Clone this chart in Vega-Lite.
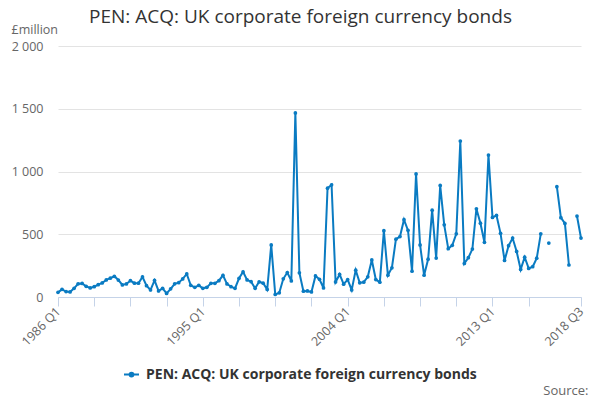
{
  "$schema": "https://vega.github.io/schema/vega-lite/v6.json",
  "width": 523,
  "height": 251,
  "autosize": "none",
  "padding": {"left": 58, "top": 46, "right": 19, "bottom": 103},
  "title": {
    "text": "PEN: ACQ: UK corporate foreign currency bonds",
    "font": "Open Sans",
    "fontSize": 19,
    "fontWeight": "normal",
    "color": "#333333",
    "anchor": "middle",
    "frame": "group",
    "dx": -19,
    "offset": -4
  },
  "data": {
    "values": [
      {"q": "1986 Q1", "v": 37}, {"q": "1986 Q2", "v": 61}, {"q": "1986 Q3", "v": 43}, {"q": "1986 Q4", "v": 40},
      {"q": "1987 Q1", "v": 69}, {"q": "1987 Q2", "v": 105}, {"q": "1987 Q3", "v": 108}, {"q": "1987 Q4", "v": 85},
      {"q": "1988 Q1", "v": 72}, {"q": "1988 Q2", "v": 82}, {"q": "1988 Q3", "v": 98}, {"q": "1988 Q4", "v": 112},
      {"q": "1989 Q1", "v": 136}, {"q": "1989 Q2", "v": 150}, {"q": "1989 Q3", "v": 165}, {"q": "1989 Q4", "v": 135},
      {"q": "1990 Q1", "v": 96}, {"q": "1990 Q2", "v": 104}, {"q": "1990 Q3", "v": 130}, {"q": "1990 Q4", "v": 110},
      {"q": "1991 Q1", "v": 110}, {"q": "1991 Q2", "v": 160}, {"q": "1991 Q3", "v": 90}, {"q": "1991 Q4", "v": 56},
      {"q": "1992 Q1", "v": 132}, {"q": "1992 Q2", "v": 48}, {"q": "1992 Q3", "v": 69}, {"q": "1992 Q4", "v": 28},
      {"q": "1993 Q1", "v": 65}, {"q": "1993 Q2", "v": 105}, {"q": "1993 Q3", "v": 114}, {"q": "1993 Q4", "v": 144},
      {"q": "1994 Q1", "v": 184}, {"q": "1994 Q2", "v": 93}, {"q": "1994 Q3", "v": 77}, {"q": "1994 Q4", "v": 93},
      {"q": "1995 Q1", "v": 69}, {"q": "1995 Q2", "v": 77}, {"q": "1995 Q3", "v": 109}, {"q": "1995 Q4", "v": 109},
      {"q": "1996 Q1", "v": 130}, {"q": "1996 Q2", "v": 173}, {"q": "1996 Q3", "v": 104}, {"q": "1996 Q4", "v": 82},
      {"q": "1997 Q1", "v": 69}, {"q": "1997 Q2", "v": 149}, {"q": "1997 Q3", "v": 200}, {"q": "1997 Q4", "v": 136},
      {"q": "1998 Q1", "v": 122}, {"q": "1998 Q2", "v": 69}, {"q": "1998 Q3", "v": 121}, {"q": "1998 Q4", "v": 110},
      {"q": "1999 Q1", "v": 60}, {"q": "1999 Q2", "v": 415}, {"q": "1999 Q3", "v": 20}, {"q": "1999 Q4", "v": 33},
      {"q": "2000 Q1", "v": 145}, {"q": "2000 Q2", "v": 195}, {"q": "2000 Q3", "v": 128}, {"q": "2000 Q4", "v": 1467},
      {"q": "2001 Q1", "v": 193}, {"q": "2001 Q2", "v": 46}, {"q": "2001 Q3", "v": 48}, {"q": "2001 Q4", "v": 40},
      {"q": "2002 Q1", "v": 168}, {"q": "2002 Q2", "v": 141}, {"q": "2002 Q3", "v": 72}, {"q": "2002 Q4", "v": 867},
      {"q": "2003 Q1", "v": 894}, {"q": "2003 Q2", "v": 120}, {"q": "2003 Q3", "v": 180}, {"q": "2003 Q4", "v": 102},
      {"q": "2004 Q1", "v": 139}, {"q": "2004 Q2", "v": 56}, {"q": "2004 Q3", "v": 214}, {"q": "2004 Q4", "v": 113},
      {"q": "2005 Q1", "v": 118}, {"q": "2005 Q2", "v": 161}, {"q": "2005 Q3", "v": 295}, {"q": "2005 Q4", "v": 139},
      {"q": "2006 Q1", "v": 118}, {"q": "2006 Q2", "v": 528}, {"q": "2006 Q3", "v": 174}, {"q": "2006 Q4", "v": 233},
      {"q": "2007 Q1", "v": 461}, {"q": "2007 Q2", "v": 482}, {"q": "2007 Q3", "v": 616}, {"q": "2007 Q4", "v": 531},
      {"q": "2008 Q1", "v": 206}, {"q": "2008 Q2", "v": 981}, {"q": "2008 Q3", "v": 415}, {"q": "2008 Q4", "v": 174},
      {"q": "2009 Q1", "v": 301}, {"q": "2009 Q2", "v": 692}, {"q": "2009 Q3", "v": 310}, {"q": "2009 Q4", "v": 889},
      {"q": "2010 Q1", "v": 575}, {"q": "2010 Q2", "v": 385}, {"q": "2010 Q3", "v": 412}, {"q": "2010 Q4", "v": 503},
      {"q": "2011 Q1", "v": 1243}, {"q": "2011 Q2", "v": 267}, {"q": "2011 Q3", "v": 313}, {"q": "2011 Q4", "v": 382},
      {"q": "2012 Q1", "v": 703}, {"q": "2012 Q2", "v": 588}, {"q": "2012 Q3", "v": 436}, {"q": "2012 Q4", "v": 1131},
      {"q": "2013 Q1", "v": 634}, {"q": "2013 Q2", "v": 650}, {"q": "2013 Q3", "v": 507}, {"q": "2013 Q4", "v": 291},
      {"q": "2014 Q1", "v": 409}, {"q": "2014 Q2", "v": 470}, {"q": "2014 Q3", "v": 363}, {"q": "2014 Q4", "v": 220},
      {"q": "2015 Q1", "v": 317}, {"q": "2015 Q2", "v": 228}, {"q": "2015 Q3", "v": 242}, {"q": "2015 Q4", "v": 309},
      {"q": "2016 Q1", "v": 503}, {"q": "2016 Q2", "v": null}, {"q": "2016 Q3", "v": 430}, {"q": "2016 Q4", "v": null},
      {"q": "2017 Q1", "v": 879}, {"q": "2017 Q2", "v": 632}, {"q": "2017 Q3", "v": 586}, {"q": "2017 Q4", "v": 255},
      {"q": "2018 Q1", "v": null}, {"q": "2018 Q2", "v": 645}, {"q": "2018 Q3", "v": 470}
    ]
  },
  "encoding": {
    "x": {
      "field": "q",
      "type": "ordinal",
      "sort": null,
      "scale": {"type": "point", "padding": 0},
      "axis": {
        "values": ["1986 Q1", "1988 Q2", "1990 Q3", "1992 Q4", "1995 Q1", "1997 Q2", "1999 Q3", "2001 Q4", "2004 Q1", "2006 Q2", "2008 Q3", "2010 Q4", "2013 Q1", "2015 Q2", "2018 Q3"],
        "labelExpr": "indexof(['1986 Q1','1995 Q1','2004 Q1','2013 Q1','2018 Q3'], datum.value) >= 0 ? datum.value : ''",
        "labelAngle": -45,
        "labelAlign": "right",
        "labelBaseline": "middle",
        "labelPadding": 3,
        "labelOverlap": false,
        "labelFont": "Open Sans",
        "labelFontSize": 12.5,
        "labelColor": "#666666",
        "tickSize": 9,
        "tickColor": "#c5d3e8",
        "domainColor": "#c5d3e8",
        "domainWidth": 1,
        "grid": false,
        "title": "Source:",
        "titleFont": "Open Sans",
        "titleFontSize": 13,
        "titleFontWeight": "normal",
        "titleColor": "#666666",
        "titleAnchor": "end",
        "titleAlign": "right",
        "titleBaseline": "alphabetic",
        "titleX": 530,
        "titleY": 97
      }
    },
    "y": {
      "field": "v",
      "type": "quantitative",
      "scale": {"domain": [0, 2000], "nice": false, "zero": true},
      "axis": {
        "values": [0, 500, 1000, 1500, 2000],
        "labelExpr": "replace(format(datum.value, ','), ',', ' ')",
        "labelFont": "Open Sans",
        "labelFontSize": 12.5,
        "labelColor": "#666666",
        "labelPadding": 15,
        "ticks": false,
        "domain": false,
        "grid": true,
        "gridColor": "#e3e3e3",
        "title": "£million",
        "titleFont": "Open Sans",
        "titleFontSize": 12.5,
        "titleFontWeight": "normal",
        "titleColor": "#666666",
        "titleAngle": 0,
        "titleAlign": "left",
        "titleBaseline": "alphabetic",
        "titleX": -47,
        "titleY": -13
      }
    },
    "color": {
      "datum": "PEN: ACQ: UK corporate foreign currency bonds",
      "type": "nominal",
      "scale": {"range": ["#0a7bc2"]},
      "legend": {
        "orient": "none",
        "legendX": 65,
        "legendY": 320,
        "title": null,
        "padding": 0,
        "symbolType": "M-1,0H1M-0.25,0a0.25,0.25 0 1,0 0.5,0a0.25,0.25 0 1,0 -0.5,0",
        "symbolSize": 225,
        "symbolStrokeWidth": 2,
        "symbolStrokeColor": "#0a7bc2",
        "symbolFillColor": "#0a7bc2",
        "labelFont": "Open Sans",
        "labelFontSize": 14,
        "labelFontWeight": "bold",
        "labelColor": "#333333",
        "labelOffset": 6,
        "labelLimit": 500
      }
    }
  },
  "layer": [
    {"mark": {"type": "line", "strokeWidth": 2, "invalid": "break-paths-show-domains"}},
    {"mark": {"type": "point", "filled": true, "size": 14, "opacity": 1, "invalid": "break-paths-show-domains"}}
  ],
  "config": {
    "view": {"stroke": null},
    "font": "Open Sans"
  }
}
